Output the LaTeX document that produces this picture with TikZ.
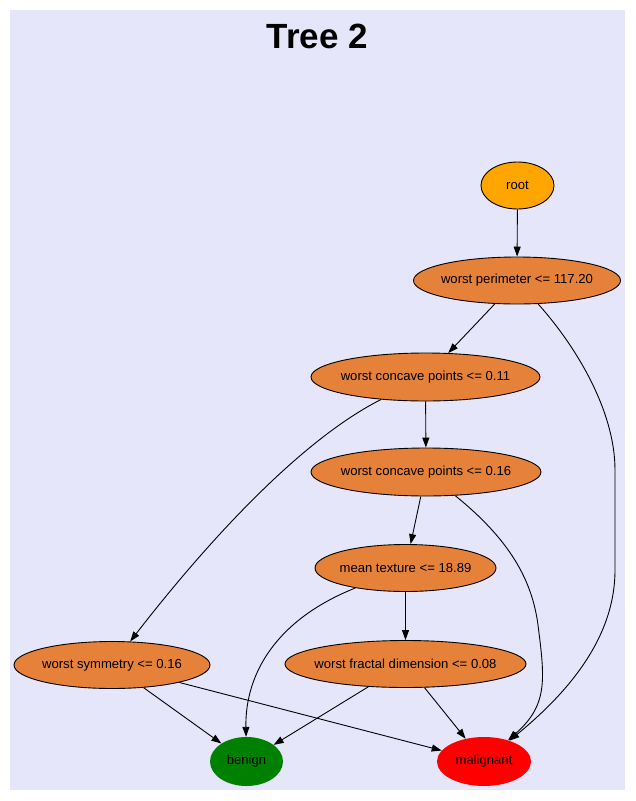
\documentclass[tikz,border=0pt]{standalone}
\usepackage{fontspec}
\setmainfont{Liberation Sans}
\usetikzlibrary{shapes.geometric,arrows.meta}
\definecolor{bgcol}{HTML}{E6E6FA}
\definecolor{splitcol}{HTML}{E58139}
\definecolor{rootcol}{HTML}{FFA500}
\definecolor{bencol}{HTML}{008000}
\definecolor{malcol}{HTML}{FF0000}
\newcommand\nlabel[1]{\makebox[0pt]{#1}}
\tikzset{
  tnode/.style={ellipse, inner sep=0pt, font=\fontsize{13.1}{15}\selectfont},
  splitnode/.style={tnode, draw=black, line width=0.9pt, fill=splitcol, minimum height=47pt},
  leafnode/.style={tnode, minimum width=73pt, minimum height=49pt},
  edge/.style={draw=black, line width=0.9pt, -{Triangle[length=10pt,width=7pt]}}
}
\begin{document}
\begin{tikzpicture}[x=1pt,y=-1pt]
\useasboundingbox (0,0) rectangle (635,801);
\fill[bgcol] (10,10) rectangle (625,790);
\node[font=\fontsize{35}{40}\selectfont\bfseries] (title) at (317.5,36) {Tree 2};

\node[tnode, draw=black, line width=0.9pt, fill=rootcol, minimum width=73pt, minimum height=47pt] (root) at (517.5,185.5) {\nlabel{root}};
\node[splitnode, minimum width=207pt] (perim) at (517,280.5) {\nlabel{worst perimeter <= 117.20}};
\node[splitnode, minimum width=229pt, minimum height=48pt] (cpa) at (425.5,377) {\nlabel{worst concave points <= 0.11}};
\node[splitnode, minimum width=230pt, minimum height=48pt] (cpb) at (426,472) {\nlabel{worst concave points <= 0.16}};
\node[splitnode, minimum width=181pt] (mtex) at (405.5,568) {\nlabel{mean texture <= 18.89}};
\node[splitnode, minimum width=196pt] (sym) at (112,665) {\nlabel{worst symmetry <= 0.16}};
\node[splitnode, minimum width=241pt] (frac) at (405.5,664) {\nlabel{worst fractal dimension <= 0.08}};
\node[leafnode, fill=bencol] (ben) at (246.5,761.5) {\nlabel{benign}};
\node[leafnode, fill=malcol, minimum width=94pt] (mal) at (484,761.5) {\nlabel{malignant}};

\draw[edge] (root) -- (perim);
\draw[edge] (perim) -- (cpa);
\draw[edge] (perim) .. controls (575,345) and (615,410) .. (615,470) -- (615,570) .. controls (615,640) and (565,695) .. (mal);
\draw[edge] (cpa) -- (cpb);
\draw[edge] (cpa) .. controls (291,445) and (190,564) .. (sym);
\draw[edge] (cpb) -- (mtex);
\draw[edge] (cpb) .. controls (510,540) and (532,580) .. (538,625) .. controls (545,680) and (548,705) .. (mal);
\draw[edge] (mtex) .. controls (275,620) and (245,675) .. (ben);
\draw[edge] (mtex) -- (frac);
\draw[edge] (sym) -- (ben);
\draw[edge] (sym) -- (mal);
\draw[edge] (frac) -- (ben);
\draw[edge] (frac) -- (mal);
\end{tikzpicture}
\end{document}
